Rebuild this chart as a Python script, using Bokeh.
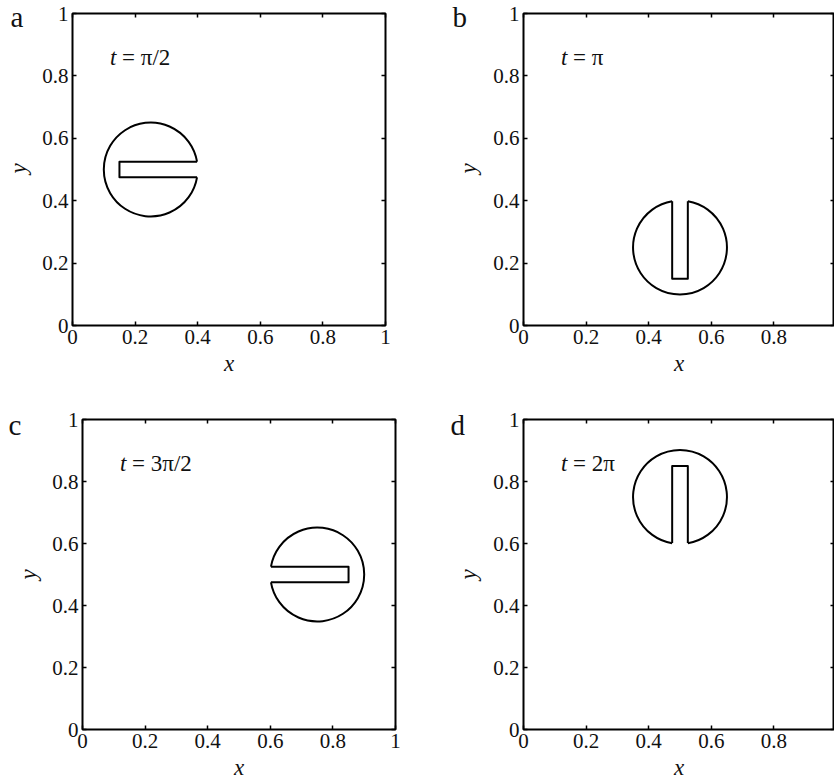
from bokeh.plotting import figure
from bokeh.layouts import column, row
from bokeh.models import FixedTicker, LinearAxis, Label, Range1d
from bokeh.embed import file_html
from bokeh.resources import INLINE

# ---- data ----
panel_letters = ["a", "b", "c", "d"]
time_text = ["= \u03c0/2", "= \u03c0", "= 3\u03c0/2", "= 2\u03c0"]
disk_cx = [0.25, 0.50, 0.75, 0.50]
disk_cy = [0.50, 0.25, 0.50, 0.75]
disk_r = [0.15, 0.15, 0.15, 0.15]
arc_start_deg = [9.6, 99.6, 189.6, 279.6]
arc_end_deg = [350.4, 80.4, 170.4, 260.4]
slot_x = [
    [0.398, 0.150, 0.150, 0.398],
    [0.525, 0.525, 0.475, 0.475],
    [0.602, 0.850, 0.850, 0.602],
    [0.475, 0.475, 0.525, 0.525],
]
slot_y = [
    [0.475, 0.475, 0.525, 0.525],
    [0.398, 0.150, 0.150, 0.398],
    [0.525, 0.525, 0.475, 0.475],
    [0.602, 0.850, 0.850, 0.602],
]
ticks = [0, 0.2, 0.4, 0.6, 0.8, 1]
tick_labels = ["0", "0.2", "0.4", "0.6", "0.8", "1"]

SERIF = "Liberation Serif"
INK = "#111111"

# pixel layout of each panel (figure size, borders, letter & y-label canvas positions)
layout = [
    dict(w=420, h=390, bl=72, br=35, bt=13, bb=65, xend=1.0, lx=10, ly=16, yx=18, yy=168),
    dict(w=414, h=390, bl=103, br=0, bt=13, bb=65, xend=311 / 313, lx=32, ly=16, yx=48, yy=168),
    dict(w=420, h=392, bl=82, br=25, bt=29, bb=51, xend=1.0, lx=8, ly=34, yx=28, yy=184),
    dict(w=414, h=392, bl=103, br=0, bt=29, bb=51, xend=311 / 313, lx=30, ly=34, yx=48, yy=184),
]

overrides = {t: l for t, l in zip(ticks, tick_labels)}


def style_axis(ax, labels=True):
    ax.ticker = FixedTicker(ticks=ticks, minor_ticks=[])
    ax.major_tick_in = 4
    ax.major_tick_out = 0
    ax.minor_tick_in = 0
    ax.minor_tick_out = 0
    ax.major_tick_line_color = "black"
    ax.major_tick_line_width = 1.5
    ax.axis_line_alpha = 0
    if labels:
        ax.major_label_overrides = overrides
        ax.major_label_text_font = SERIF
        ax.major_label_text_font_size = "21px"
        ax.major_label_text_color = INK
        ax.major_label_standoff = 4
        ax.axis_label_text_font = SERIF
        ax.axis_label_text_font_style = "italic"
        ax.axis_label_text_font_size = "23px"
        ax.axis_label_text_color = INK
    else:
        ax.major_label_text_font_size = "0px"
        ax.major_label_standoff = 0
        ax.major_label_overrides = {t: "" for t in ticks}


figs = []
for i in range(4):
    L = layout[i]
    p = figure(
        width=L["w"], height=L["h"],
        x_range=Range1d(0, L["xend"]), y_range=Range1d(0, 1),
        output_backend="svg", toolbar_location=None, tools="",
        min_border_left=L["bl"], min_border_right=L["br"],
        min_border_top=L["bt"], min_border_bottom=L["bb"],
        x_axis_label="x",
    )
    p.grid.visible = False
    p.outline_line_color = "black"
    p.outline_line_width = 2
    p.outline_line_alpha = 1

    style_axis(p.xaxis[0])
    style_axis(p.yaxis[0])
    p.xaxis[0].axis_label_standoff = 4

    top = LinearAxis()
    style_axis(top, labels=False)
    p.add_layout(top, "above")
    right = LinearAxis()
    style_axis(right, labels=False)
    p.add_layout(right, "right")

    # slotted disk: circular arc plus the slot
    p.arc(x=[disk_cx[i]], y=[disk_cy[i]], radius=disk_r[i],
          start_angle=arc_start_deg[i], end_angle=arc_end_deg[i],
          start_angle_units="deg", end_angle_units="deg",
          direction="anticlock", line_color="black", line_width=2)
    p.line(x=slot_x[i], y=slot_y[i], line_color="black", line_width=2,
           line_join="round")

    # time annotation
    p.add_layout(Label(x=0.12, y=0.859, text="t", text_font=SERIF,
                       text_font_style="italic", text_font_size="23px",
                       text_color=INK, text_baseline="alphabetic"))
    p.add_layout(Label(x=0.12, y=0.859, x_offset=12, text=time_text[i],
                       text_font=SERIF, text_font_size="23px",
                       text_color=INK, text_baseline="alphabetic"))

    # y axis title (rotated) and panel letter, in the left margin
    p.add_layout(Label(x=L["yx"], y=L["yy"], x_units="canvas", y_units="canvas",
                       text="y", angle=90, angle_units="deg",
                       text_font=SERIF, text_font_style="italic",
                       text_font_size="23px", text_color=INK,
                       text_align="center", text_baseline="middle"), "left")
    p.add_layout(Label(x=L["lx"], y=L["ly"], x_units="canvas", y_units="canvas",
                       text=panel_letters[i], text_font=SERIF, text_font_size="29px",
                       text_color=INK, text_baseline="alphabetic"), "left")
    figs.append(p)

layout_obj = column(row(figs[0], figs[1]), row(figs[2], figs[3]))

open("out.html", "w").write(file_html(layout_obj, INLINE))
